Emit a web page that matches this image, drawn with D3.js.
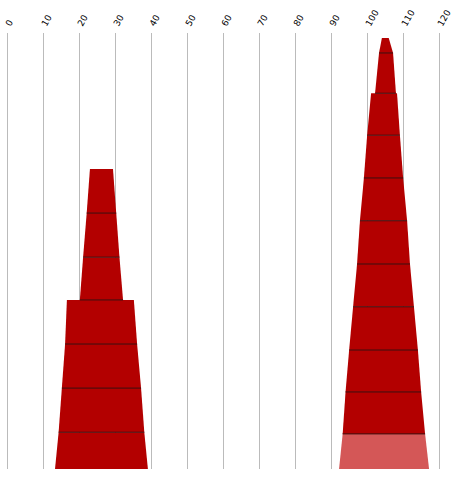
<!DOCTYPE html>
<html><head><meta charset="utf-8">
<script src="https://cdn.jsdelivr.net/npm/d3@7"></script>
<style>body{margin:0;background:#fff}</style></head>
<body><svg id="chart" width="452" height="477"></svg>
<script>
const ticks = [0, 10, 20, 30, 40, 50, 60, 70, 80, 90, 100, 110, 120];

// each piece: levels (height), left edge and right edge values
const leftLow = {levels: [0, 0.86, 1.89, 2.92, 3.95], left: [13.2, 14.2, 15.1, 16.0, 16.5], right: [39.0, 38.0, 37.1, 36.0, 35.1]};
const leftHigh = {levels: [3.95, 4.95, 5.98, 7.01], left: [20.1, 21.0, 22.0, 22.9], right: [32.1, 31.1, 30.2, 29.3]};
const rightLow = {levels: [0, 0.82, 1.8, 2.78, 3.79, 4.79, 5.8, 6.8, 7.8, 8.78], left: [92.1, 93.1, 93.9, 94.9, 96.0, 97.1, 97.9, 99.0, 99.9, 101.0], right: [117.1, 116.0, 114.9, 114.0, 112.9, 111.8, 111.0, 109.9, 109.0, 108.2]};
const rightHigh = {levels: [8.78, 9.72, 10.07], left: [102.1, 103.2, 104.0], right: [107.9, 107.1, 105.9]};
const pieces = [leftLow, leftHigh, rightLow, rightHigh];

const svg = d3.select("#chart");
const x = d3.scaleLinear().domain([0, 120]).range([7.5, 439.5]);
const y = d3.scaleLinear().domain([0, 10]).range([469, 41]);

svg.append("g").selectAll("line").data(ticks).join("line")
  .attr("x1", d => x(d)).attr("x2", d => x(d))
  .attr("y1", 33).attr("y2", 469)
  .attr("stroke", "#bbb").attr("stroke-width", 1);

svg.append("g").attr("font-family", "DejaVu Sans").attr("font-size", 9)
  .selectAll("text").data(ticks).join("text")
  .attr("transform", d => `translate(${x(d) + 3},27) rotate(-60)`)
  .text(d => d);

const segs = [];
pieces.forEach(p => {
  for (let i = 0; i < p.levels.length - 1; i++) {
    segs.push({y0: p.levels[i], y1: p.levels[i + 1], l0: p.left[i], r0: p.right[i], l1: p.left[i + 1], r1: p.right[i + 1], light: p === rightLow && i === 0});
  }
});

svg.append("g").selectAll("path").data(segs).join("path")
  .attr("d", d => `M${x(d.l0)},${y(d.y0)}L${x(d.r0)},${y(d.y0)}L${x(d.r1)},${y(d.y1)}L${x(d.l1)},${y(d.y1)}Z`)
  .attr("fill", d => d.light ? "#d45757" : "#b30000");

svg.append("g").selectAll("line").data(segs.filter(d => d.y0 > 0)).join("line")
  .attr("x1", d => x(d.l0)).attr("x2", d => x(d.r0))
  .attr("y1", d => y(d.y0)).attr("y2", d => y(d.y0))
  .attr("stroke", "#3a1010").attr("stroke-width", 1);
</script></body></html>
